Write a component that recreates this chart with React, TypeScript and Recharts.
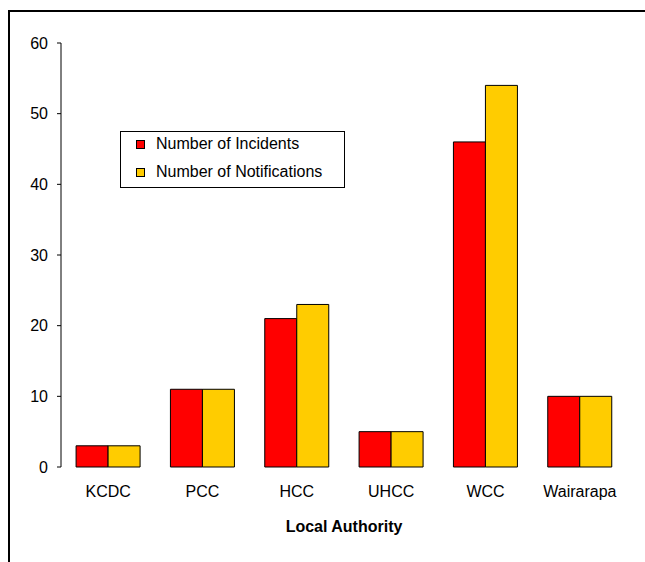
import React from 'react';
import { BarChart, Bar, XAxis, YAxis, Legend } from 'recharts';

const authorities = ['KCDC', 'PCC', 'HCC', 'UHCC', 'WCC', 'Wairarapa'];
const incidents = [3, 11, 21, 5, 46, 10];
const notifications = [3, 11, 23, 5, 54, 10];
const yTicks = [0, 10, 20, 30, 40, 50, 60];
const boundaryTicks = [0, 1, 2, 3, 4, 5, 6];

const data = authorities.map((name, i) => ({
  name,
  incidents: incidents[i],
  notifications: notifications[i],
}));

const FONT = '"Liberation Sans", Arial, sans-serif';

const LegendBox = () => (
  <div
    style={{
      position: 'relative',
      width: 223,
      height: 55,
      border: '1px solid #000',
      background: '#fff',
      fontFamily: FONT,
      fontSize: 16,
      color: '#000',
      boxSizing: 'content-box',
    }}
  >
    {[
      { label: 'Number of Incidents', color: '#FF0000' },
      { label: 'Number of Notifications', color: '#FFCC00' },
    ].map((item, i) => (
      <div key={i} style={{ position: 'absolute', left: 15, top: 1 + i * 28, height: 22, display: 'flex', alignItems: 'center', whiteSpace: 'nowrap' }}>
        <span style={{ display: 'inline-block', width: 7, height: 7, background: item.color, border: '1px solid #000', marginRight: 11 }} />
        <span>{item.label}</span>
      </div>
    ))}
  </div>
);

export default function App() {
  return (
    <div style={{ position: 'absolute', left: 0, top: 0, width: 645, height: 562, overflow: 'hidden', background: '#fff' }}>
      <div style={{ position: 'absolute', left: 8, top: 10, width: 700, height: 600, borderTop: '2px solid #000', borderLeft: '2px solid #000' }} />
      <div style={{ position: 'absolute', left: 0, top: 0 }}>
        <BarChart
          width={645}
          height={562}
          data={data}
          margin={{ top: 43, right: 18, bottom: 25, left: 0 }}
          barCategoryGap="16%"
          barGap={0}
          style={{ fontFamily: FONT }}
        >
          <XAxis
            xAxisId="grid"
            type="number"
            domain={[0, 6]}
            ticks={boundaryTicks}
            allowDataOverflow
            height={0}
            tick={false}
            tickSize={5}
            axisLine={{ stroke: '#000' }}
            tickLine={{ stroke: '#000' }}
          />
          <XAxis
            dataKey="name"
            height={70}
            axisLine={false}
            tickLine={false}
            tickMargin={13}
            tick={{ fill: '#000', fontSize: 16 }}
            interval={0}
            label={{ value: 'Local Authority', position: 'insideBottom', offset: 5, fill: '#000', fontSize: 16, fontWeight: 'bold' }}
          />
          <YAxis
            domain={[0, 60]}
            ticks={yTicks}
            width={61}
            tickSize={4}
            tickMargin={9}
            axisLine={{ stroke: '#000' }}
            tickLine={{ stroke: '#000' }}
            tick={{ fill: '#000', fontSize: 16 }}
          />
          <Legend
            layout="vertical"
            verticalAlign="middle"
            align="center"
            wrapperStyle={{ position: 'absolute', left: 120, top: 131, width: 225, height: 57 }}
            content={() => <LegendBox />}
          />
          <Bar dataKey="incidents" fill="#FF0000" stroke="#000" strokeWidth={1} isAnimationActive={false} />
          <Bar dataKey="notifications" fill="#FFCC00" stroke="#000" strokeWidth={1} isAnimationActive={false} />
        </BarChart>
      </div>
    </div>
  );
}
